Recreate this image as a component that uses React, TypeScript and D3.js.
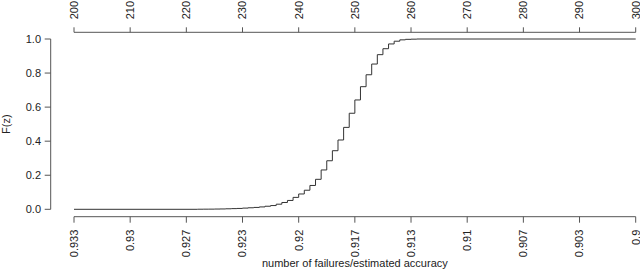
import React from "react";
import * as d3 from "d3";

const failures: number[] = [222, 223, 224, 225, 226, 227, 228, 229, 230, 231, 232, 233, 234, 235, 236, 237, 238, 239, 240, 241, 242, 243, 244, 245, 246, 247, 248, 249, 250, 251, 252, 253, 254, 255, 256, 257, 258, 259, 260, 261];
const cdf: number[] = [0.0005, 0.0008, 0.001, 0.0015, 0.002, 0.003, 0.004, 0.005, 0.007, 0.009, 0.011, 0.014, 0.018, 0.022, 0.03, 0.04, 0.052, 0.07, 0.09, 0.112, 0.14, 0.176, 0.231, 0.285, 0.344, 0.407, 0.481, 0.564, 0.642, 0.72, 0.79, 0.853, 0.908, 0.943, 0.971, 0.987, 0.995, 0.998, 0.999, 1.0];
const topTicks: number[] = [200, 210, 220, 230, 240, 250, 260, 270, 280, 290, 300];
const bottomLabels: string[] = ["0.933", "0.93", "0.927", "0.923", "0.92", "0.917", "0.913", "0.91", "0.907", "0.903", "0.9"];
const yTicks: number[] = [0, 0.2, 0.4, 0.6, 0.8, 1.0];
const xDomain: [number, number] = [200, 300];

export default function App() {
  const x = d3.scaleLinear().domain(xDomain).range([74, 635.7]);
  const y = d3.scaleLinear().domain([0, 1]).range([209.3, 39]);
  const pts: [number, number][] = [[xDomain[0], 0]];
  failures.forEach((k, i) => pts.push([k, cdf[i]]));
  pts.push([xDomain[1], 1]);
  const line = d3.line<[number, number]>().x(d => x(d[0])).y(d => y(d[1])).curve(d3.curveStepAfter);
  const axisColor = "#555";
  const textColor = "#222";
  const font = "'Liberation Sans', Arial, sans-serif";
  const topY = 32.3;
  const botY = 216.7;
  const leftX = 50.7;
  return (
    <svg width={640} height={270} style={{ position: "absolute", left: 0, top: 0, background: "#fff" }} fontFamily={font} fontSize={11}>
      <rect width={640} height={270} fill="#fff" />
      {/* top axis */}
      <line x1={x(xDomain[0])} x2={x(xDomain[1])} y1={topY} y2={topY} stroke={axisColor} />
      {topTicks.map(t => (
        <g key={"t" + t}>
          <line x1={x(t)} x2={x(t)} y1={topY} y2={topY - 5} stroke={axisColor} />
          <text transform={`translate(${x(t)},${topY - 13}) rotate(-90)`} textAnchor="start" dy="0.35em" fill={textColor}>{t}</text>
        </g>
      ))}
      {/* bottom axis */}
      <line x1={x(xDomain[0])} x2={x(xDomain[1])} y1={botY} y2={botY} stroke={axisColor} />
      {topTicks.map((t, i) => (
        <g key={"b" + t}>
          <line x1={x(t)} x2={x(t)} y1={botY} y2={botY + 6} stroke={axisColor} />
          <text transform={`translate(${x(t)},${botY + 13}) rotate(-90)`} textAnchor="end" dy="0.35em" fill={textColor}>{bottomLabels[i]}</text>
        </g>
      ))}
      {/* left axis */}
      <line x1={leftX} x2={leftX} y1={y(0)} y2={y(1)} stroke={axisColor} />
      {yTicks.map(t => (
        <g key={"y" + t}>
          <line x1={leftX} x2={leftX - 6} y1={y(t)} y2={y(t)} stroke={axisColor} />
          <text x={41} y={y(t)} textAnchor="end" dy="0.35em" fill={textColor}>{t.toFixed(1)}</text>
        </g>
      ))}
      <text transform={`translate(6,${(y(0) + y(1)) / 2}) rotate(-90)`} textAnchor="middle" dy="0.35em" fill={textColor}>F(z)</text>
      <text x={(x(xDomain[0]) + x(xDomain[1])) / 2} y={267} textAnchor="middle" fill={textColor}>number of failures/estimated accuracy</text>
      <path d={line(pts) || ""} fill="none" stroke="#333" strokeWidth={1} />
    </svg>
  );
}
